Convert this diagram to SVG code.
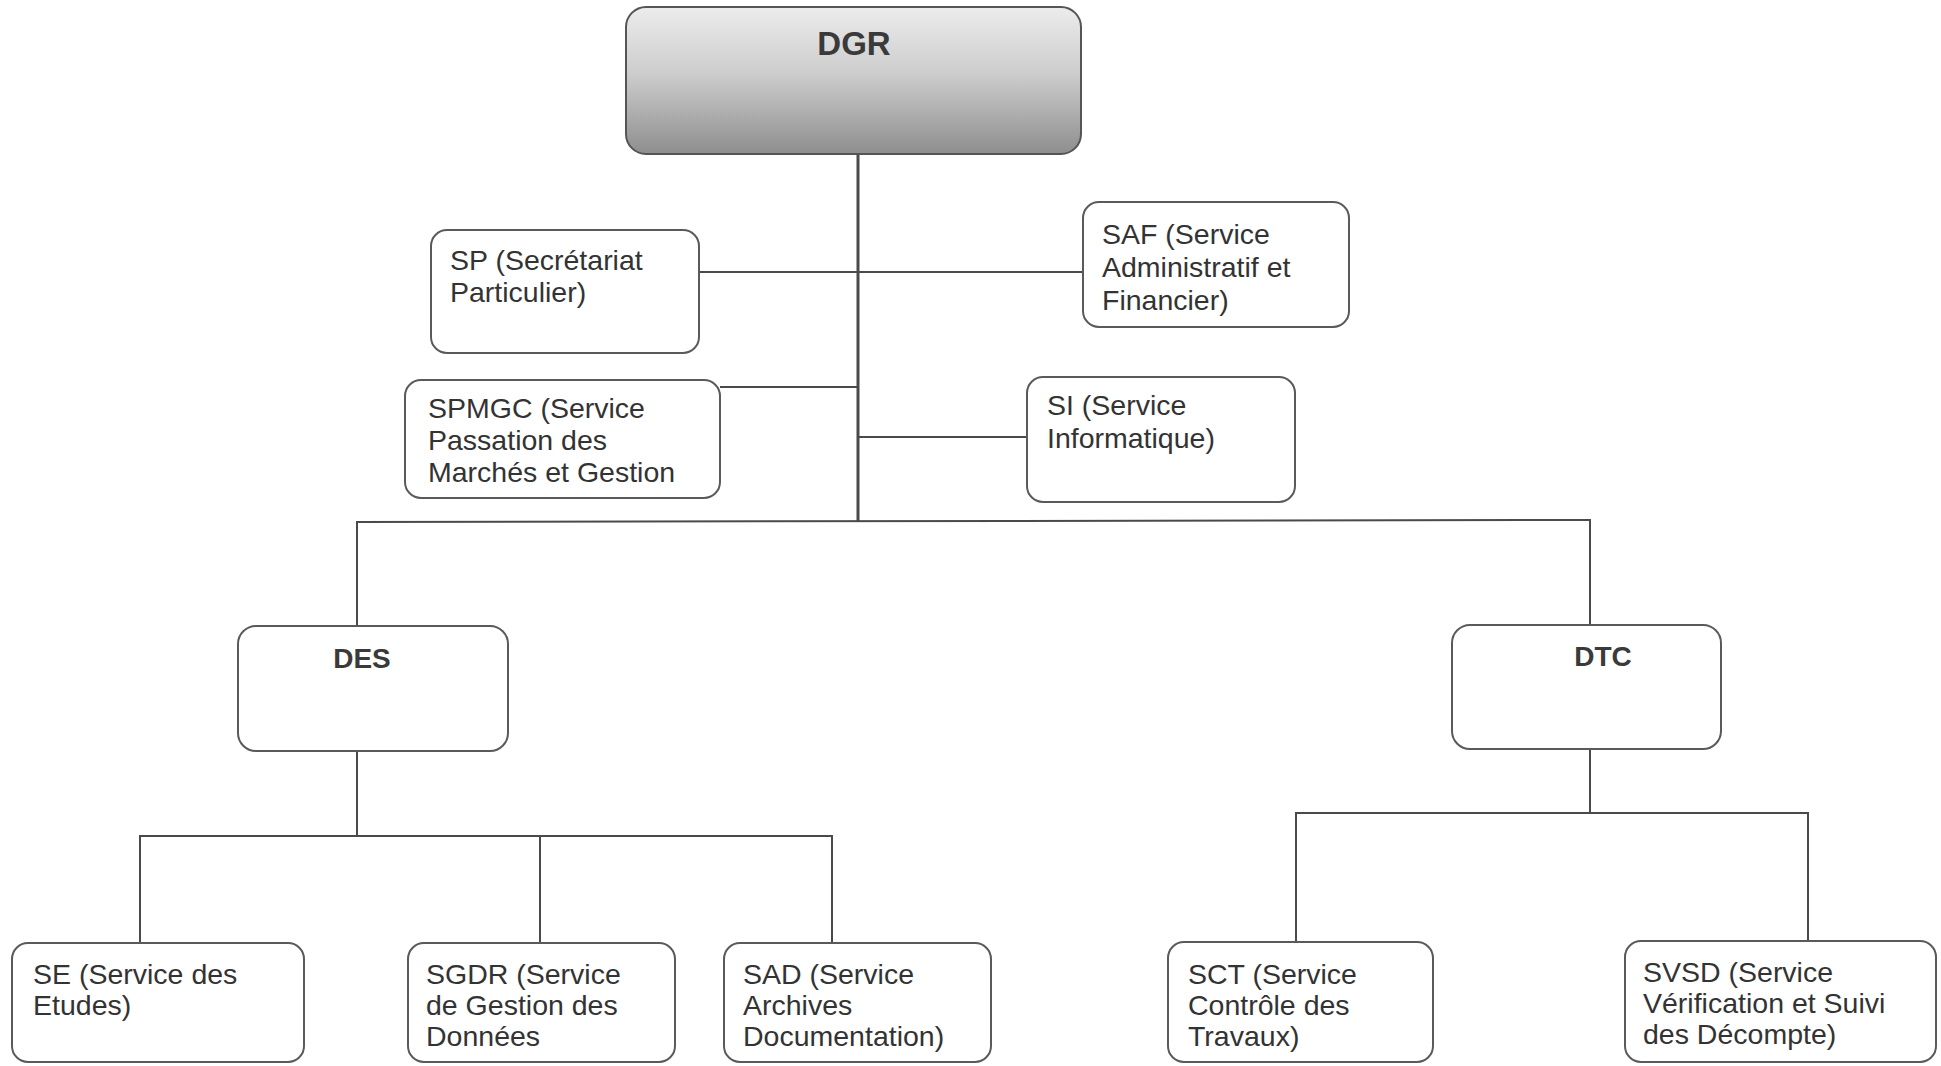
<svg xmlns="http://www.w3.org/2000/svg" width="1941" height="1066" viewBox="0 0 1941 1066">
<defs>
<linearGradient id="dgrGrad" x1="0" y1="0" x2="0" y2="1">
<stop offset="0" stop-color="#ececec"/>
<stop offset="0.45" stop-color="#cdcdcd"/>
<stop offset="1" stop-color="#8e8e8e"/>
</linearGradient>
</defs>
<style>
.box{fill:#ffffff;stroke:#5a5a5a;stroke-width:2}
.t{font-family:"Liberation Sans",Arial,sans-serif;font-size:28.5px;fill:#333333}
.b{font-family:"Liberation Sans",Arial,sans-serif;font-weight:bold;fill:#3a3a3a;text-anchor:middle}
.ln{stroke:#4a4a4a;stroke-width:2;fill:none}
</style>
<rect width="1941" height="1066" fill="#ffffff"/>
<g id="connectors">
<line class="ln" x1="858" y1="154" x2="858" y2="522" style="stroke-width:3"/>
<line class="ln" x1="699" y1="272" x2="1083" y2="272"/>
<line class="ln" x1="720" y1="387" x2="858" y2="387"/>
<line class="ln" x1="858" y1="437" x2="1027" y2="437"/>
<polyline class="ln" points="357,626 357,522 1590,520 1590,625"/>
<line class="ln" x1="357" y1="751" x2="357" y2="836"/>
<polyline class="ln" points="140,943 140,836 832,836 832,943"/>
<line class="ln" x1="540" y1="836" x2="540" y2="943"/>
<line class="ln" x1="1590" y1="749" x2="1590" y2="813"/>
<polyline class="ln" points="1296,942 1296,813 1808,813 1808,942"/>
</g>
<g id="DGR">
<rect x="626" y="7" width="455" height="147" rx="20" fill="url(#dgrGrad)" stroke="#555555" stroke-width="2"/>
<text class="b" x="854" y="55" font-size="33">DGR</text>
</g>
<g id="SP">
<rect class="box" x="431" y="230" width="268" height="123" rx="16"/>
<text class="t" x="450" y="270">SP (Secrétariat</text>
<text class="t" x="450" y="302">Particulier)</text>
</g>
<g id="SAF">
<rect class="box" x="1083" y="202" width="266" height="125" rx="16"/>
<text class="t" x="1102" y="244">SAF (Service</text>
<text class="t" x="1102" y="277">Administratif et</text>
<text class="t" x="1102" y="310">Financier)</text>
</g>
<g id="SPMGC">
<rect class="box" x="405" y="380" width="315" height="118" rx="16"/>
<text class="t" x="428" y="418">SPMGC (Service</text>
<text class="t" x="428" y="450">Passation des</text>
<text class="t" x="428" y="482">Marchés et Gestion</text>
</g>
<g id="SI">
<rect class="box" x="1027" y="377" width="268" height="125" rx="16"/>
<text class="t" x="1047" y="415">SI (Service</text>
<text class="t" x="1047" y="448">Informatique)</text>
</g>
<g id="DES">
<rect class="box" x="238" y="626" width="270" height="125" rx="18"/>
<text class="b" x="362" y="668" font-size="28">DES</text>
</g>
<g id="DTC">
<rect class="box" x="1452" y="625" width="269" height="124" rx="18"/>
<text class="b" x="1603" y="666" font-size="28">DTC</text>
</g>
<g id="SE">
<rect class="box" x="12" y="943" width="292" height="119" rx="16"/>
<text class="t" x="33" y="984">SE (Service des</text>
<text class="t" x="33" y="1015">Etudes)</text>
</g>
<g id="SGDR">
<rect class="box" x="408" y="943" width="267" height="119" rx="16"/>
<text class="t" x="426" y="984">SGDR (Service</text>
<text class="t" x="426" y="1015">de Gestion des</text>
<text class="t" x="426" y="1046">Données</text>
</g>
<g id="SAD">
<rect class="box" x="724" y="943" width="267" height="119" rx="16"/>
<text class="t" x="743" y="984">SAD (Service</text>
<text class="t" x="743" y="1015">Archives</text>
<text class="t" x="743" y="1046">Documentation)</text>
</g>
<g id="SCT">
<rect class="box" x="1168" y="942" width="265" height="120" rx="16"/>
<text class="t" x="1188" y="984">SCT (Service</text>
<text class="t" x="1188" y="1015">Contrôle des</text>
<text class="t" x="1188" y="1046">Travaux)</text>
</g>
<g id="SVSD">
<rect class="box" x="1625" y="941" width="311" height="121" rx="16"/>
<text class="t" x="1643" y="982">SVSD (Service</text>
<text class="t" x="1643" y="1013">Vérification et Suivi</text>
<text class="t" x="1643" y="1044">des Décompte)</text>
</g>
</svg>
